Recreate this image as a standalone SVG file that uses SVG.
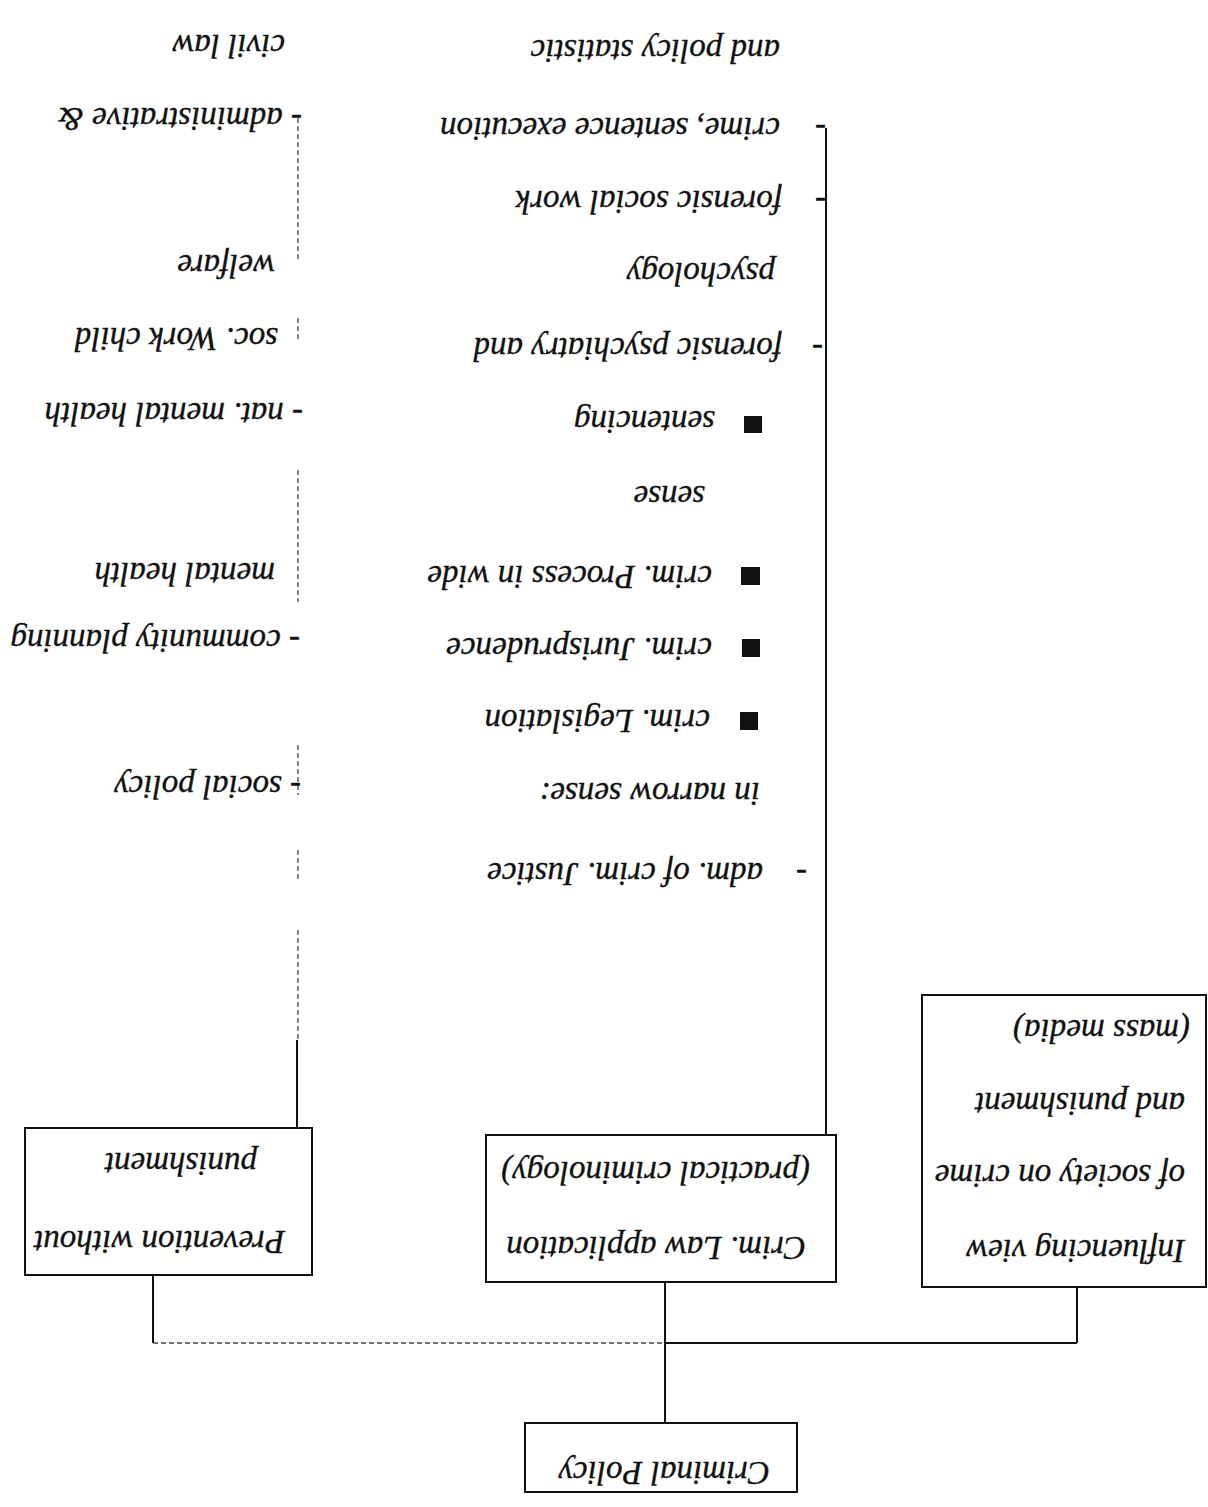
<svg xmlns="http://www.w3.org/2000/svg" width="1208" height="1507" viewBox="0 0 1208 1507">
<style>
.t{font-family:"Liberation Serif","Times New Roman",serif;font-style:italic;font-size:33px;fill:#111;stroke:#111;stroke-width:0.35}
.box{fill:#fff;stroke:#111;stroke-width:2}
.ln{fill:none;stroke:#111;stroke-width:2}
.dl{fill:none;stroke:#444;stroke-width:1.3;stroke-dasharray:5 3}
.sq{fill:#111}
</style>
<rect width="1208" height="1507" fill="#fff"/>
<g id="connectors">
<path class="ln" d="M826 128 V1135"/>
<path class="dl" d="M298 118 V262 M298 318 V342 M298 470 V602 M298 745 V795 M298 850 V880 M298 930 V1040"/>
<path class="ln" d="M297 1040 V1128" stroke-width="1.6"/>
<path class="ln" d="M665 1282 V1423" stroke-width="1.6"/>
<path class="ln" d="M153 1275 V1343" stroke-width="1.6"/>
<path class="ln" d="M1077 1287 V1343" stroke-width="1.6"/>
<path class="ln" d="M665 1343 H1077" stroke-width="1.6"/>
<path class="dl" d="M153 1343 H665" stroke-dasharray="8 10"/>
</g>
<g id="node-criminal-policy">
<rect class="box" x="525" y="1423" width="272" height="69"/>
<text class="t" transform="rotate(180 770 1462)" x="770" y="1462">Criminal Policy</text>
</g>
<g id="node-crim-law-application">
<rect class="box" x="486" y="1135" width="350" height="147"/>
<text class="t" transform="rotate(180 806 1237)" x="806" y="1237">Crim. Law application</text>
<text class="t" transform="rotate(180 810 1162)" x="810" y="1162">(practical criminology)</text>
</g>
<g id="node-influencing-view">
<rect class="box" x="922" y="995" width="284" height="292"/>
<text class="t" transform="rotate(180 1185 1240)" x="1185" y="1240">Influencing view</text>
<text class="t" transform="rotate(180 1185 1165)" x="1185" y="1165">of society on crime</text>
<text class="t" transform="rotate(180 1185 1093)" x="1185" y="1093">and punishment</text>
<text class="t" transform="rotate(180 1190 1020)" x="1190" y="1020">(mass media)</text>
</g>
<g id="node-prevention">
<rect class="box" x="25" y="1128" width="287" height="147"/>
<text class="t" transform="rotate(180 285 1231)" x="285" y="1231">Prevention without</text>
<text class="t" transform="rotate(180 257 1153)" x="257" y="1153">punishment</text>
</g>
<g id="node-crim-law-items">
<text class="t" transform="rotate(180 780 40)" x="780" y="40">and policy statistic</text>
<text class="t" transform="rotate(180 826 118)" x="826" y="118">-<tspan x="872">crime, sentence execution</tspan></text>
<text class="t" transform="rotate(180 826 191)" x="826" y="191">-<tspan x="870">forensic social work</tspan></text>
<text class="t" transform="rotate(180 775 263)" x="775" y="263">psychology</text>
<text class="t" transform="rotate(180 823 338)" x="823" y="338">-<tspan x="864">forensic psychiatry and</tspan></text>
<rect class="sq" x="744" y="416" width="18" height="17"/>
<text class="t" transform="rotate(180 715 411)" x="715" y="411">sentencing</text>
<text class="t" transform="rotate(180 705 486)" x="705" y="486">sense</text>
<rect class="sq" x="741" y="567" width="19" height="18"/>
<text class="t" transform="rotate(180 712 566)" x="712" y="566">crim. Process in wide</text>
<rect class="sq" x="742" y="639" width="18" height="18"/>
<text class="t" transform="rotate(180 712 638)" x="712" y="638">crim. Jurisprudence</text>
<rect class="sq" x="740" y="712" width="18" height="18"/>
<text class="t" transform="rotate(180 710 710)" x="710" y="710">crim. Legislation</text>
<text class="t" transform="rotate(180 760 783)" x="760" y="783">in narrow sense:</text>
<text class="t" transform="rotate(180 807 863)" x="807" y="863">-<tspan x="851">adm. of crim. Justice</tspan></text>
</g>
<g id="node-prevention-items">
<text class="t" transform="rotate(180 285 35)" x="285" y="35">civil law</text>
<text class="t" transform="rotate(180 302 108)" x="302" y="108">- administrative &amp;</text>
<text class="t" transform="rotate(180 275 255)" x="275" y="255">welfare</text>
<text class="t" transform="rotate(180 278 328)" x="278" y="328">soc. Work child</text>
<text class="t" transform="rotate(180 303 403)" x="303" y="403">- nat. mental health</text>
<text class="t" transform="rotate(180 275 563)" x="275" y="563">mental health</text>
<text class="t" transform="rotate(180 300 630)" x="300" y="630">- community planning</text>
<text class="t" transform="rotate(180 301 776)" x="301" y="776">- social policy</text>
</g>
</svg>
